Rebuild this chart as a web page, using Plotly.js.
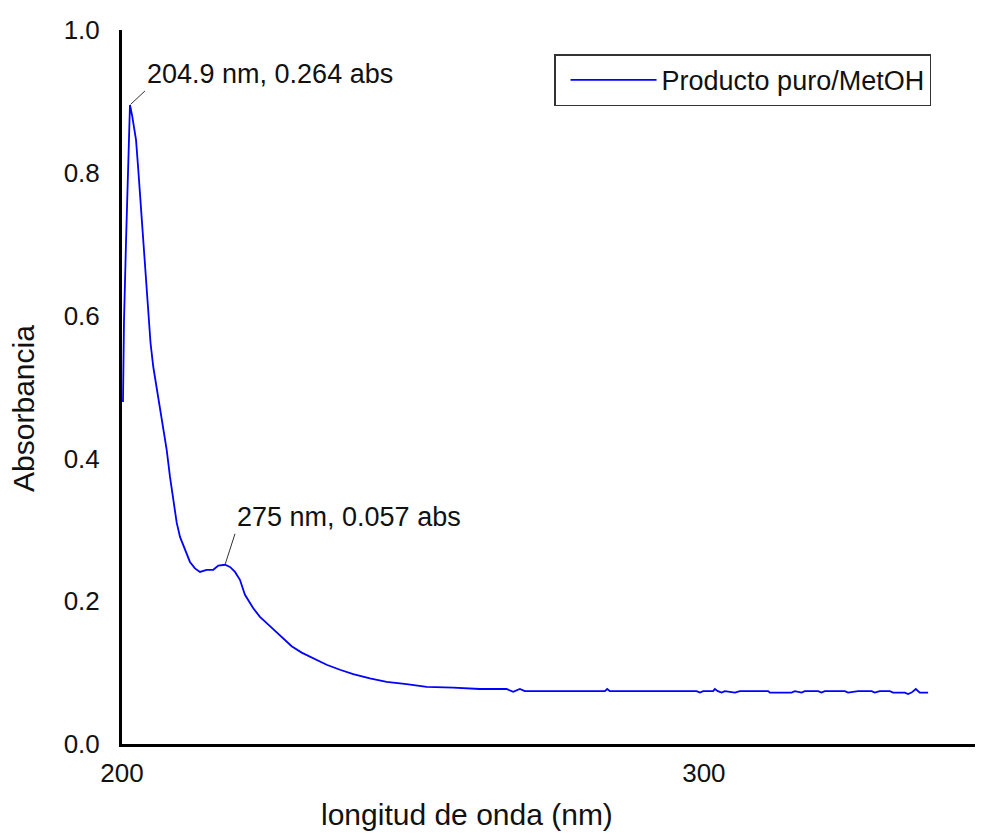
<!DOCTYPE html>
<html><head><meta charset="utf-8">
<script src="https://cdn.plot.ly/plotly-3.0.1.min.js"></script>
<style>html,body{margin:0;padding:0;background:#fff}</style>
</head><body><div id="chart" style="width:986px;height:834px"></div>
<script>
const wavelength = [200.17,200.34,200.69,201.03,201.37,201.72,202.06,202.41,202.80,203.21,203.49,203.83,204.24,204.59,204.90,205.38,205.96,206.53,207.10,207.68,208.25,208.81,209.40,209.97,210.82,211.68,212.54,213.40,214.55,215.69,216.55,217.70,218.56,219.42,220.27,221.13,222.56,223.71,225.43,227.44,229.16,230.88,232.87,235.17,237.46,239.74,242.61,245.48,248.92,252.35,256.93,261.51,266.10,267.23,268.38,269.24,282.99,283.38,283.85,298.75,299.31,299.88,301.60,301.89,302.41,303.04,303.61,305.33,306.19,311.05,311.34,315.07,315.64,316.79,317.35,319.64,320.22,320.79,324.23,324.79,326.51,328.82,329.38,330.24,331.96,332.53,334.54,335.10,335.69,336.43,337.11,338.54];
const absorbance = [0.479,0.591,0.703,0.821,0.895,0.881,0.864,0.846,0.804,0.759,0.717,0.678,0.640,0.604,0.562,0.528,0.500,0.472,0.444,0.412,0.374,0.342,0.310,0.290,0.272,0.255,0.246,0.241,0.244,0.244,0.250,0.251,0.248,0.241,0.230,0.209,0.190,0.178,0.165,0.150,0.137,0.128,0.120,0.111,0.104,0.098,0.092,0.087,0.084,0.080,0.079,0.077,0.077,0.073,0.077,0.074,0.074,0.077,0.074,0.074,0.072,0.074,0.074,0.077,0.074,0.072,0.074,0.072,0.074,0.074,0.072,0.072,0.074,0.072,0.074,0.074,0.072,0.074,0.074,0.072,0.074,0.074,0.072,0.074,0.074,0.072,0.072,0.070,0.072,0.077,0.072,0.072];
const seriesName = 'Producto puro/MetOH';
const xTitle = 'longitud de onda (nm)';
const yTitle = 'Absorbancia';
const xTickVals = [200, 300];
const xTickText = ['200', '300'];
const yTickVals = [0, 0.2, 0.4, 0.6, 0.8, 1.0];
const yTickText = ['0.0', '0.2', '0.4', '0.6', '0.8', '1.0'];
const peakLabels = ['204.9 nm, 0.264 abs', '275 nm, 0.057 abs'];
const peakX = [201.37, 217.70];
const peakY = [0.895, 0.251];

const FONT = '"Liberation Sans", Arial, sans-serif';

const trace = {
  x: wavelength, y: absorbance, type: 'scatter', mode: 'lines',
  name: seriesName, line: {color: '#0000ff', width: 1.8}
};

const offsets = [[15, -14], [10, -31]];
const annotations = peakLabels.map((t, i) => ({
  x: peakX[i], y: peakY[i], xref: 'x', yref: 'y', text: t,
  showarrow: true, arrowhead: 0, arrowwidth: 1, arrowcolor: '#333',
  ax: offsets[i][0], ay: offsets[i][1], xanchor: 'left', yanchor: 'bottom',
  standoff: 1, font: {family: FONT, size: 27, color: '#111'}
}));
annotations.push({
  xref: 'paper', yref: 'paper', x: 0.4045, y: -0.0994, text: xTitle,
  showarrow: false, xanchor: 'center', yanchor: 'middle',
  font: {family: FONT, size: 30, color: '#111'}
});
annotations.push({
  xref: 'paper', yref: 'paper', x: -0.115, y: 0.4706, text: yTitle,
  showarrow: false, xanchor: 'center', yanchor: 'middle', textangle: -90,
  font: {family: FONT, size: 30, color: '#111'}
});

const layout = {
  width: 986, height: 834,
  margin: {l: 122, r: 11, t: 30, b: 90},
  paper_bgcolor: '#fff', plot_bgcolor: '#fff',
  showlegend: true,
  legend: {x: 0.5065, y: 0.966, xanchor: 'left', yanchor: 'top',
    bgcolor: '#fff', bordercolor: '#333', borderwidth: 1.5,
    itemwidth: 86, indentation: 10,
    font: {family: FONT, size: 27, color: '#111'}},
  xaxis: {range: [200, 346.6], showgrid: false, zeroline: false,
    showline: true, linecolor: '#000', linewidth: 3, ticks: '',
    tickvals: xTickVals, ticktext: xTickText, ticklabelstandoff: 4,
    tickfont: {family: FONT, size: 26, color: '#111'}},
  yaxis: {range: [0, 1], showgrid: false, zeroline: false,
    showline: true, linecolor: '#000', linewidth: 3, ticks: '',
    tickvals: yTickVals, ticktext: yTickText, ticklabelstandoff: 14,
    tickfont: {family: FONT, size: 26, color: '#111'}},
  annotations: annotations
};

Plotly.newPlot('chart', [trace], layout, {displayModeBar: false, staticPlot: true});
</script></body></html>
